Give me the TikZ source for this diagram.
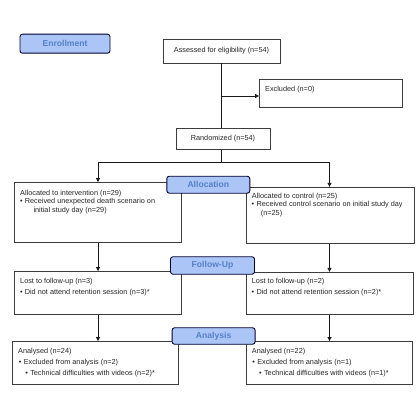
\documentclass[tikz,border=0pt]{standalone}
\usepackage{fontspec}
\setmainfont{Liberation Sans}
\usetikzlibrary{arrows.meta}
\definecolor{labfill}{RGB}{170,197,246}
\definecolor{labtext}{RGB}{86,128,200}
\definecolor{boxline}{RGB}{60,60,60}
\begin{document}
\begin{tikzpicture}[x=1pt,y=-1pt,
  box/.style={draw=boxline, line width=0.9pt, rectangle, inner sep=0pt, fill=white},
  lab/.style={draw=black!80!blue, line width=0.9pt, rounded corners=2.5pt, fill=labfill, inner sep=0pt,
    text=labtext, font=\fontsize{8.6}{9}\selectfont\bfseries},
  txt/.style={anchor=west, inner sep=0pt, text=black!85, font=\fontsize{7.3}{8}\selectfont},
  conn/.style={draw=black!90, line width=0.9pt},
  arr/.style={conn, -{Triangle[length=4pt,width=4pt]}}]
\useasboundingbox (0,0) rectangle (420,420);
\fill[white] (0,0) rectangle (420,420);

% boxes
\node[box, minimum width=117pt, minimum height=24pt] (assess) at (221.5,51) {};
\node[box, minimum width=143pt, minimum height=28pt] (excl) at (331,93) {};
\node[box, minimum width=94pt, minimum height=21pt] (rand) at (223,138.7) {};
\node[box, minimum width=167pt, minimum height=60pt] (allocL) at (97.7,212.5) {};
\node[box, minimum width=168pt, minimum height=56pt] (allocR) at (330,215.3) {};
\node[box, minimum width=167pt, minimum height=43pt] (lostL) at (97.7,293) {};
\node[box, minimum width=167pt, minimum height=42pt] (lostR) at (329.5,293.3) {};
\node[box, minimum width=166pt, minimum height=43pt] (anaL) at (95.3,363) {};
\node[box, minimum width=166pt, minimum height=43pt] (anaR) at (329.2,363) {};

% texts
\node[txt, anchor=center] (tassess) at (assess.center) {Assessed for eligibility (n=54)};
\node[txt] (texcl) at (265,89.3) {Excluded (n=0)};
\node[txt, anchor=center] (trand) at (rand.center) {Randomized (n=54)};

\node[txt] (aL1) at (20,193.3) {Allocated to intervention (n=29)};
\node[txt] (aL2) at (19.8,201.8) {\textbullet\hspace{2.3pt}Received unexpected death scenario on};
\node[txt] (aL3) at (33.3,210.3) {initial study day (n=29)};

\node[txt] (aR1) at (251.7,196.5) {Allocated to control (n=25)};
\node[txt] (aR2) at (251.5,205) {\textbullet\hspace{2.3pt}Received control scenario on initial study day};
\node[txt] (aR3) at (260.7,213.5) {(n=25)};

\node[txt] (lL1) at (20,281.7) {Lost to follow-up (n=3)};
\node[txt] (lL2) at (19.8,292.7) {\textbullet\hspace{2.3pt}Did not attend retention session (n=3)*};
\node[txt] (lR1) at (251.7,281.7) {Lost to follow-up (n=2)};
\node[txt] (lR2) at (251.5,292.7) {\textbullet\hspace{2.3pt}Did not attend retention session (n=2)*};

\node[txt] (nL1) at (18,351.7) {Analysed (n=24)};
\node[txt] (nL2) at (18.7,362.7) {\textbullet\hspace{2.3pt}Excluded from analysis (n=2)};
\node[txt] (nL3) at (25.2,373.3) {\textbullet\hspace{2.3pt}Technical difficulties with videos (n=2)*};
\node[txt] (nR1) at (251.7,351.7) {Analysed (n=22)};
\node[txt] (nR2) at (252.2,362.7) {\textbullet\hspace{2.3pt}Excluded from analysis (n=1)};
\node[txt] (nR3) at (259,373.3) {\textbullet\hspace{2.3pt}Technical difficulties with videos (n=1)*};

% connectors
\coordinate (top) at (221.7,63);
\coordinate (exc) at (221.7,96);
\coordinate (split) at (221.7,162.7);
\coordinate (sL) at (98,162.7);
\coordinate (sR) at (329.5,162.7);
\draw[conn] (assess.south -| top) -- (rand.north -| top);
\draw[arr] (exc) -- (exc -| excl.west);
\draw[conn] (rand.south -| split) -- (split);
\draw[conn] (sL) -- (sR);
\draw[arr] (sL) -- (sL |- allocL.north);
\draw[arr] (sR) -- (sR |- allocR.north);
\draw[arr] (allocL.south -| sL) -- (lostL.north -| sL);
\draw[arr] (allocR.south -| sR) -- (lostR.north -| sR);
\draw[arr] (lostL.south -| sL) -- (anaL.north -| sL);
\draw[arr] (lostR.south -| sR) -- (anaR.north -| sR);

% stage labels
\node[lab, minimum width=90pt, minimum height=19pt] (enr) at (65,43.7) {Enrollment};
\node[lab, minimum width=83pt, minimum height=17pt] (alloc) at (208.3,184.7) {Allocation};
\node[lab, minimum width=84pt, minimum height=17.5pt] (fol) at (212.5,265.5) {Follow-Up};
\node[lab, minimum width=83pt, minimum height=16.5pt] (ana) at (213.6,336) {Analysis};
\end{tikzpicture}
\end{document}
